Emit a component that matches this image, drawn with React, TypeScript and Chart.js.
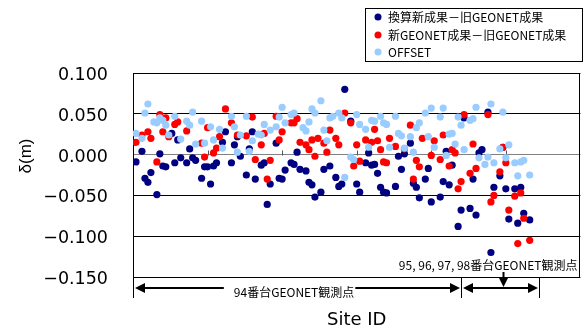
import React, { useEffect, useRef } from 'react';
import { Chart, registerables } from 'chart.js';

Chart.register(...registerables);

// ---- data ----
const SERIES_LABELS = ['換算新成果－旧GEONET成果', '新GEONET成果－旧GEONET成果', 'OFFSET'];
const SERIES_COLORS = ['#000080', '#FF0000', '#99CCFF'];
const Y_TICKS = [-0.15, -0.1, -0.05, 0, 0.05, 0.1];
const X_MARKS = [25, 50, 75, 100, 125];
const X_TITLE = 'Site ID';
const Y_TITLE = 'δ(m)';
const GROUP_LABELS = ['94番台GEONET観測点', '95, 96, 97, 98番台GEONET観測点'];
const GROUP_START = 0;
const GROUP_SPLIT = 110;
const GROUP_END = 136;
const GROUP_LABEL_SITE = 54;
const GROUP2_MARK = 124;

const convSites = [1, 3, 4, 5, 6, 8, 9, 10, 11, 13, 14, 15, 16, 18, 19, 20, 21, 23, 24, 25, 26, 27, 28, 30, 31, 33, 34, 35, 36, 38, 39, 40, 41, 43, 44, 45, 46, 48, 49, 50, 51, 53, 54, 55, 56, 58, 59, 60, 61, 63, 64, 66, 68, 69, 70, 71, 73, 75, 76, 78, 79, 80, 81, 82, 83, 84, 85, 88, 89, 90, 91, 93, 94, 95, 96, 98, 99, 100, 103, 104, 105, 106, 107, 109, 110, 111, 113, 114, 115, 116, 117, 119, 120, 121, 123, 124, 125, 126, 128, 129, 130, 131, 133];
const convValues = [-0.009, 0.004, -0.029, -0.034, -0.022, -0.049, 0.001, -0.014, -0.015, 0.026, -0.010, 0.018, -0.004, -0.010, 0.007, -0.004, -0.007, -0.029, -0.015, -0.015, -0.036, -0.014, -0.010, 0.015, 0.028, -0.010, 0.012, 0.022, -0.002, -0.025, 0.007, 0.028, -0.030, -0.013, -0.010, -0.061, -0.036, 0.014, -0.029, -0.030, -0.019, -0.010, -0.012, 0.003, -0.018, -0.020, -0.034, -0.037, -0.052, -0.046, -0.018, -0.014, -0.028, -0.039, -0.036, 0.080, 0.041, -0.036, -0.046, -0.010, 0.002, -0.013, -0.012, -0.023, -0.040, -0.046, -0.047, -0.039, -0.002, -0.018, 0.001, 0.014, -0.035, -0.040, -0.053, -0.030, -0.017, -0.058, -0.052, -0.033, 0.004, -0.037, -0.013, -0.088, -0.068, 0.045, -0.066, -0.030, -0.074, 0.002, 0.006, 0.052, -0.120, -0.040, -0.026, 0.009, -0.042, -0.079, -0.042, -0.084, -0.040, -0.072, -0.080];

const newSites = [1, 3, 5, 6, 8, 9, 10, 11, 12, 14, 15, 18, 23, 24, 25, 27, 28, 29, 31, 33, 35, 38, 40, 41, 43, 44, 45, 46, 48, 49, 50, 53, 54, 55, 56, 58, 59, 60, 61, 62, 64, 65, 66, 68, 69, 71, 73, 74, 75, 76, 78, 80, 81, 82, 83, 84, 85, 86, 88, 91, 93, 94, 95, 96, 97, 100, 101, 103, 104, 106, 107, 108, 109, 110, 111, 113, 114, 115, 119, 120, 121, 123, 124, 125, 126, 128, 129, 130, 131, 133];
const newValues = [0.015, 0.024, 0.028, 0.020, -0.009, 0.049, 0.028, 0.045, 0.022, 0.037, 0.040, 0.029, 0.014, -0.003, 0.033, 0.002, 0.008, 0.022, 0.056, 0.039, 0.024, 0.023, 0.046, -0.006, 0.012, 0.026, -0.030, -0.007, 0.047, 0.018, 0.028, 0.039, 0.039, 0.044, 0.015, 0.012, 0.006, 0.018, -0.002, 0.020, 0.014, 0.003, 0.030, 0.020, 0.012, 0.051, 0.039, -0.014, 0.012, -0.008, 0.018, 0.015, 0.031, 0.017, 0.006, -0.009, -0.010, 0.020, 0.010, 0.007, 0.036, -0.030, -0.007, -0.015, 0.020, -0.001, 0.017, -0.006, 0.024, -0.014, 0.006, 0.002, -0.042, -0.033, 0.049, -0.023, 0.013, -0.017, 0.049, -0.058, -0.050, -0.021, 0.009, -0.010, -0.068, -0.051, -0.109, -0.047, -0.078, -0.105];

const offsetSites = [1, 3, 4, 5, 7, 8, 9, 10, 11, 12, 14, 16, 18, 19, 20, 21, 23, 24, 26, 27, 29, 30, 33, 34, 35, 36, 38, 39, 40, 42, 43, 44, 46, 48, 49, 50, 51, 53, 54, 57, 58, 59, 60, 61, 63, 64, 65, 66, 67, 69, 70, 71, 73, 74, 75, 76, 78, 79, 80, 81, 83, 84, 85, 86, 88, 89, 90, 91, 93, 94, 95, 96, 98, 99, 100, 101, 103, 104, 105, 106, 107, 108, 109, 110, 111, 113, 114, 115, 116, 118, 119, 120, 121, 123, 124, 125, 126, 128, 129, 130, 131, 133];
const offsetValues = [0.026, 0.020, 0.051, 0.062, 0.040, 0.039, 0.045, 0.042, 0.036, 0.024, 0.047, 0.019, 0.041, 0.036, 0.052, 0.013, 0.041, 0.014, 0.034, 0.018, 0.031, 0.008, 0.047, 0.034, 0.003, 0.024, 0.047, 0.004, 0.017, 0.025, 0.024, 0.037, 0.030, 0.034, 0.046, 0.058, 0.039, 0.049, 0.051, 0.033, 0.029, 0.040, 0.056, 0.051, 0.066, 0.030, 0.017, 0.045, 0.047, 0.051, 0.045, -0.028, -0.003, -0.006, 0.049, 0.037, 0.031, 0.009, 0.042, 0.041, 0.047, 0.039, 0.037, 0.009, 0.047, 0.026, 0.023, 0.008, 0.022, 0.003, 0.033, 0.039, 0.051, 0.022, 0.057, 0.009, 0.046, 0.057, -0.001, 0.025, 0.026, 0.013, 0.046, 0.036, 0.006, 0.042, 0.044, 0.058, -0.004, -0.012, -0.003, 0.062, -0.010, 0.007, 0.052, -0.004, 0.012, -0.010, -0.026, -0.009, -0.007, -0.025];

const toPoints = (xs: number[], ys: number[]) => xs.map((x, i) => ({ x, y: ys[i] }));

const AXIS_FONT = 'DejaVu Sans';
const JP_FONT = '"Noto Sans CJK JP", "Noto Sans", sans-serif';

function fmtTick(v: number): string {
  const s = Math.abs(v).toFixed(3);
  return v < -1e-9 ? '\u2212' + s : s;
}

function arrowHead(ctx: CanvasRenderingContext2D, x: number, y: number, dir: string) {
  const L = 10;
  const H = 5;
  ctx.beginPath();
  if (dir === 'left') {
    ctx.moveTo(x, y);
    ctx.lineTo(x + L, y - H);
    ctx.lineTo(x + L, y + H);
  } else if (dir === 'right') {
    ctx.moveTo(x, y);
    ctx.lineTo(x - L, y - H);
    ctx.lineTo(x - L, y + H);
  } else {
    ctx.moveTo(x, y);
    ctx.lineTo(x - H, y - L);
    ctx.lineTo(x + H, y - L);
  }
  ctx.closePath();
  ctx.fill();
}

const framePlugin = {
  id: 'frame',
  beforeDatasetsDraw(chart: any) {
    const { ctx, chartArea: a, scales } = chart;
    const xs = scales.x;
    const ys = scales.y;
    ctx.save();
    ctx.strokeStyle = '#000';
    ctx.lineWidth = 1;
    ctx.strokeRect(Math.round(a.left) + 0.5, Math.round(a.top) + 0.5, Math.round(a.right - a.left) - 1, Math.round(a.bottom - a.top));
    const y0 = Math.round(ys.getPixelForValue(0)) + 0.5;
    ctx.strokeStyle = '#555';
    X_MARKS.forEach((v) => {
      const px = Math.round(xs.getPixelForValue(v)) + 0.5;
      ctx.beginPath();
      ctx.moveTo(px, y0);
      ctx.lineTo(px, y0 - 5);
      ctx.stroke();
    });
    ctx.restore();
  },
  afterDraw(chart: any) {
    const { ctx, chartArea: a, scales } = chart;
    const xs = scales.x;
    ctx.save();
    ctx.strokeStyle = '#000';
    ctx.fillStyle = '#000';

    // y axis title
    ctx.save();
    ctx.translate(26, 156);
    ctx.rotate(-Math.PI / 2);
    ctx.font = '17px "Liberation Sans", sans-serif';
    ctx.textAlign = 'center';
    ctx.textBaseline = 'middle';
    ctx.fillText(Y_TITLE, 0, 0);
    ctx.restore();

    // ---- group annotations under the axis ----
    const xa = Math.round(xs.getPixelForValue(GROUP_START));
    const xb = Math.round(xs.getPixelForValue(GROUP_SPLIT));
    const xc = Math.round(xs.getPixelForValue(GROUP_END));
    const yArr = Math.round(a.bottom) + 11;

    ctx.lineWidth = 1;
    [xa, xb, xc].forEach((px) => {
      ctx.beginPath();
      ctx.moveTo(px + 0.5, a.bottom + 1);
      ctx.lineTo(px + 0.5, a.bottom + 21);
      ctx.stroke();
    });

    ctx.lineWidth = 2;
    ctx.beginPath();
    ctx.moveTo(xa + 4, yArr);
    ctx.lineTo(xb - 4, yArr);
    ctx.moveTo(xb + 4, yArr);
    ctx.lineTo(xc - 4, yArr);
    ctx.stroke();
    arrowHead(ctx, xa + 2, yArr, 'left');
    arrowHead(ctx, xb - 1, yArr, 'right');
    arrowHead(ctx, xb + 2, yArr, 'left');
    arrowHead(ctx, xc - 1, yArr, 'right');

    ctx.font = '12px ' + JP_FONT;
    ctx.textBaseline = 'middle';
    ctx.textAlign = 'center';
    const lx = xs.getPixelForValue(GROUP_LABEL_SITE);
    const w1 = ctx.measureText(GROUP_LABELS[0]).width;
    ctx.fillStyle = '#fff';
    ctx.fillRect(lx - w1 / 2 - 10, yArr - 5, w1 + 11, 12);
    ctx.fillStyle = '#000';
    ctx.fillText(GROUP_LABELS[0], lx, yArr + 4);

    ctx.textAlign = 'right';
    ctx.fillText(GROUP_LABELS[1], a.right - 3, a.bottom - 12);
    const xm = Math.round(xs.getPixelForValue(GROUP2_MARK)) + 0.5;
    ctx.lineWidth = 2;
    ctx.beginPath();
    ctx.moveTo(xm, a.bottom - 5);
    ctx.lineTo(xm, yArr - 6);
    ctx.stroke();
    arrowHead(ctx, xm, yArr - 1, 'down');

    // ---- legend ----
    const bx = 365.5, by = 8.5, bw = 217, bh = 53;
    ctx.fillStyle = '#fff';
    ctx.fillRect(bx, by, bw, bh);
    ctx.lineWidth = 1;
    ctx.strokeStyle = '#000';
    ctx.strokeRect(bx, by, bw, bh);
    const rows = [17, 35, 52];
    ctx.textAlign = 'left';
    ctx.font = '12px ' + JP_FONT;
    chart.data.datasets.forEach((ds: any, i: number) => {
      ctx.fillStyle = ds.backgroundColor;
      ctx.beginPath();
      ctx.arc(378, rows[i], 3.5, 0, Math.PI * 2);
      ctx.fill();
      ctx.fillStyle = '#000';
      ctx.fillText(ds.label, 388, rows[i] + 0.5);
    });
    ctx.restore();
  },
};

export default function App() {
  const ref = useRef<HTMLCanvasElement | null>(null);
  useEffect(() => {
    if (!ref.current) return;
    const mk = (i: number, xs: number[], ys: number[], order: number) => ({
      label: SERIES_LABELS[i],
      data: toPoints(xs, ys),
      backgroundColor: SERIES_COLORS[i],
      borderColor: SERIES_COLORS[i],
      borderWidth: 0,
      pointRadius: 3.6,
      pointHoverRadius: 3.6,
      order,
    });
    const chart = new Chart(ref.current, {
      type: 'scatter',
      data: {
        datasets: [
          mk(0, convSites, convValues, 3),
          mk(1, newSites, newValues, 2),
          mk(2, offsetSites, offsetValues, 1),
        ],
      },
      options: {
        animation: false,
        responsive: false,
        devicePixelRatio: 1,
        layout: { padding: { top: 73, right: 2, left: 0, bottom: 0 } },
        plugins: { legend: { display: false }, tooltip: { enabled: false } },
        scales: {
          x: {
            type: 'linear',
            min: 0,
            max: 150,
            ticks: { display: false },
            grid: { display: false },
            border: { display: false },
            title: {
              display: true,
              text: X_TITLE,
              color: '#000',
              font: { family: AXIS_FONT, size: 18, lineHeight: 1 },
              padding: { top: 0, bottom: 0 },
            },
            afterFit: (s: any) => {
              s.height = 52;
            },
          },
          y: {
            min: -0.15,
            max: 0.1,
            afterBuildTicks: (s: any) => {
              s.ticks = Y_TICKS.map((v) => ({ value: v }));
            },
            ticks: {
              color: '#000',
              padding: 25,
              labelOffset: 2.5,
              font: { family: AXIS_FONT, size: 17.5 },
              callback: (v: any) => fmtTick(Number(v)),
            },
            grid: {
              drawTicks: false,
              color: (c: any) => (c.tick && Math.abs(c.tick.value) < 1e-9 ? '#808080' : '#000'),
              lineWidth: 1,
            },
            border: { display: true, color: '#000' },
            title: { display: false },
            afterFit: (s: any) => {
              s.width = 133;
            },
          },
        },
      },
      plugins: [framePlugin],
    } as any);
    return () => chart.destroy();
  }, []);
  return (
    <div style={{ position: 'fixed', left: 0, top: 0, width: 584, height: 329, background: '#fff' }}>
      <canvas ref={ref} width={584} height={329} style={{ display: 'block', width: 584, height: 329 }} />
    </div>
  );
}
